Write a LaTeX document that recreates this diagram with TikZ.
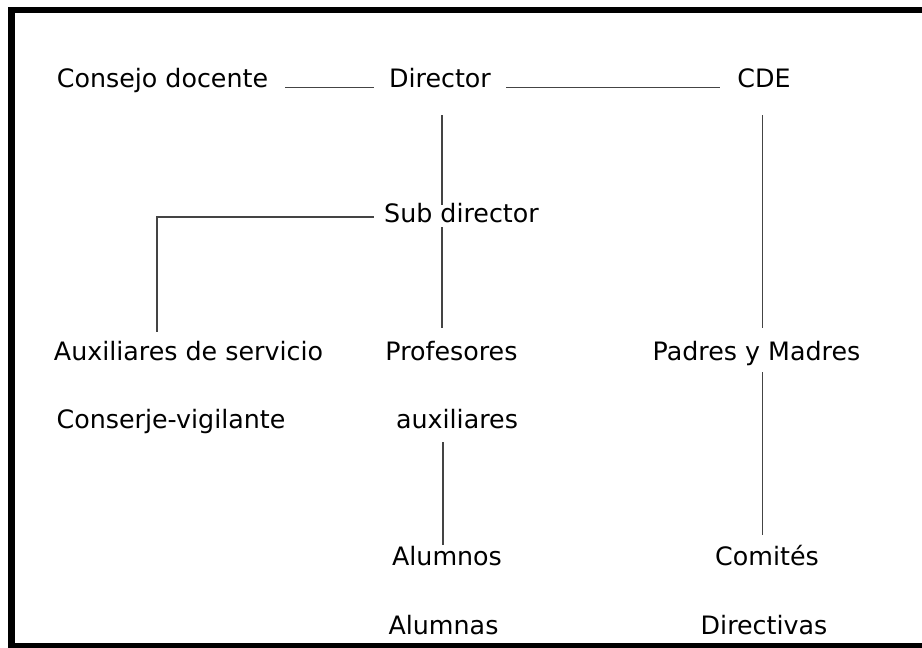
\documentclass[tikz,border=0pt]{standalone}
\usepackage{fontspec}
\setmainfont{DejaVu Sans}
\usetikzlibrary{calc}
\definecolor{linegray}{HTML}{444444}
\begin{document}
\begin{tikzpicture}[x=0.75pt,y=-0.75pt,
  lbl/.style={inner sep=0pt, anchor=base, font=\fontsize{19}{22}\selectfont},
  conn/.style={draw=linegray, line width=1.3pt}]
\useasboundingbox (0,0) rectangle (922,647);
\draw[line width=5.2pt] (11.5,10) rectangle (930,646.5);

\node[lbl] (consejo) at (162.5,87.5) {Consejo docente};
\node[lbl] (director) at (440,87.5) {Director};
\node[lbl] (cde) at (764,87.5) {CDE};
\node[lbl] (subdir) at (461.5,222) {Sub director};
\node[lbl] (auxserv) at (188.5,360) {Auxiliares de servicio};
\node[lbl] (conserje) at (171,428) {Conserje-vigilante};
\node[lbl] (prof) at (451.5,360) {Profesores};
\node[lbl] (auxil) at (457,428) {auxiliares};
\node[lbl] (alumnos) at (447,565) {Alumnos};
\node[lbl] (alumnas) at (443.5,634) {Alumnas};
\node[lbl] (padres) at (756.5,360) {Padres y Madres};
\node[lbl] (comites) at (767,565) {Comités};
\node[lbl] (directivas) at (764,634) {Directivas};

% top row
\draw[conn] ($(consejo.base east)+(17,0)$) -- ($(director.base west)+(-15,0)$);
\draw[conn] ($(director.base east)+(15,0)$) -- ($(cde.base west)+(-17,0)$);
% director column
\draw[conn] ($(director.base)+(2,27.5)$) -- ($(subdir.base)+(-19.5,-17)$);
\draw[conn] ($(subdir.base)+(-19.5,5)$) -- ($(prof.base)+(-9.5,-32)$);
% sub director to auxiliares de servicio
\draw[conn] ($(subdir.base west)+(-10,-5)$) -| ($(auxserv.base)+(-31.5,-28)$);
% auxiliares to alumnos
\draw[conn] ($(auxil.base)+(-14,14)$) -- ($(alumnos.base)+(-4,-20)$);
% CDE column
\draw[conn] ($(cde.base)+(-1.5,27.5)$) -- ($(padres.base)+(6,-32)$);
\draw[conn] ($(padres.base)+(6,12)$) -- ($(comites.base)+(-4.5,-30)$);
\end{tikzpicture}
\end{document}
